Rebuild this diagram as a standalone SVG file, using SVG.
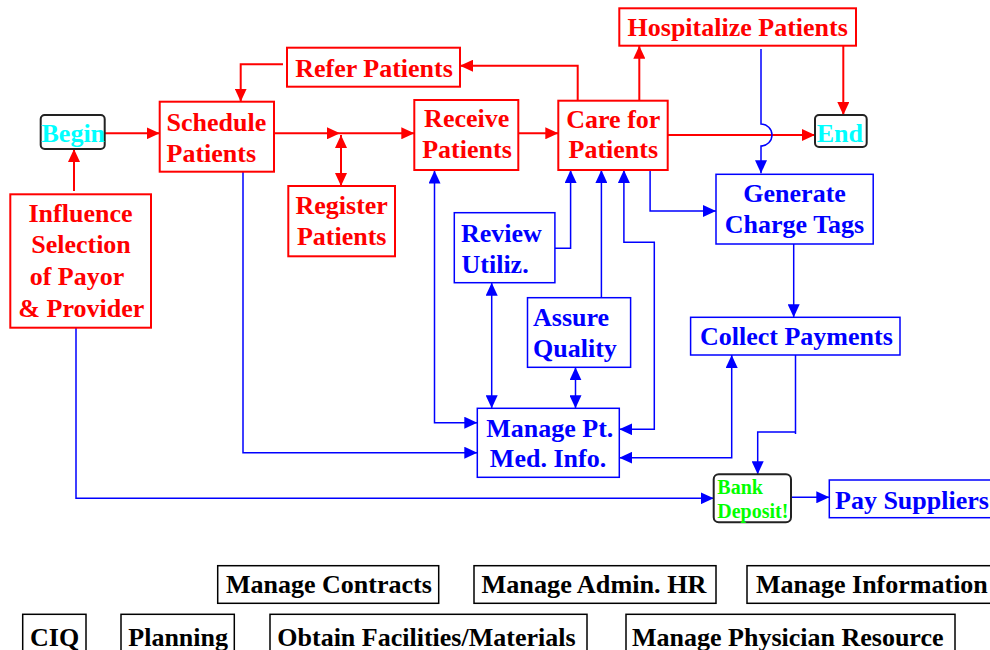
<svg xmlns="http://www.w3.org/2000/svg" width="990" height="650" viewBox="0 0 990 650">
<defs>
<style>
text{font-family:"Liberation Serif","Times New Roman",serif;font-weight:bold;font-size:26px}
.r rect{fill:#fff;stroke:#ff0000;stroke-width:2}
.r text{fill:#ff0000}
.b rect{fill:#fff;stroke:#0000ff;stroke-width:1.5}
.b text{fill:#0000ff}
.t rect{fill:#fff;stroke:#222;stroke-width:2}
.k rect{fill:#fff;stroke:#000;stroke-width:1.5}
.k text{fill:#000}
.m{text-anchor:middle}
.cr path{fill:none;stroke:#ff0000;stroke-width:2}
.cb path{fill:none;stroke:#0000ff;stroke-width:1.5}
</style>
<marker id="ar" markerUnits="userSpaceOnUse" markerWidth="14" markerHeight="12" refX="13" refY="6" orient="auto-start-reverse"><path d="M0,0 L13,6 L0,12 z" fill="#ff0000"/></marker>
<marker id="ab" markerUnits="userSpaceOnUse" markerWidth="14" markerHeight="12" refX="13" refY="6" orient="auto-start-reverse"><path d="M0,0 L13,6 L0,12 z" fill="#0000ff"/></marker>
</defs>
<rect width="990" height="650" fill="#fff"/>

<g id="connectors">
<g class="cr">
<path d="M74,191 V149" marker-end="url(#ar)"/>
<path d="M105,133.3 H159.7" marker-end="url(#ar)"/>
<path d="M274,133.3 H340" marker-end="url(#ar)"/>
<path d="M340,133.3 H414.3" marker-end="url(#ar)"/>
<path d="M341,135 V186" marker-start="url(#ar)" marker-end="url(#ar)"/>
<path d="M518.3,133.3 H558.3" marker-end="url(#ar)"/>
<path d="M668,135 H815" marker-end="url(#ar)"/>
<path d="M639.3,100.7 V45.7" marker-end="url(#ar)"/>
<path d="M843.3,45.7 V115" marker-end="url(#ar)"/>
<path d="M577.7,100.7 V65.7 H460" marker-end="url(#ar)"/>
<path d="M283,64.3 H240.7 V101.7" marker-end="url(#ar)"/>
</g>
<g class="cb">
<path d="M761,49 V124 A11,11 0 0 1 761,146 V173.3" marker-end="url(#ab)"/>
<path d="M555,248.3 H570.6 V170" marker-end="url(#ab)"/>
<path d="M601.4,297.7 V170" marker-end="url(#ab)"/>
<path d="M619.3,429.3 H654.3 V242.3 H623.9 V170" marker-start="url(#ab)" marker-end="url(#ab)"/>
<path d="M650.1,170 V211 H716" marker-end="url(#ab)"/>
<path d="M619.3,457.7 H731.7 V355" marker-start="url(#ab)" marker-end="url(#ab)"/>
<path d="M795.5,355 V434 M795.5,432 H757.7 V474.3" marker-end="url(#ab)"/>
<path d="M491.7,282.7 V408.3" marker-start="url(#ab)" marker-end="url(#ab)"/>
<path d="M575.5,367.3 V408.3" marker-start="url(#ab)" marker-end="url(#ab)"/>
<path d="M434.5,170.5 V422.7 H477.3" marker-start="url(#ab)" marker-end="url(#ab)"/>
<path d="M243,171.7 V452.7 H477.3" marker-end="url(#ab)"/>
<path d="M76,327.7 V498.3 H713.7" marker-end="url(#ab)"/>
<path d="M791,497.3 H829.3" marker-end="url(#ab)"/>
<path d="M793.7,244 V317.3" marker-end="url(#ab)"/>
</g>
</g>

<g id="begin" class="t"><rect x="40.7" y="115" width="64" height="34" rx="4"/><text x="41.5" y="141.7" fill="#00ffff">Begin</text></g>
<g id="end" class="t"><rect x="815" y="115" width="51.7" height="32" rx="4"/><text x="816.7" y="141.7" fill="#00ffff">End</text></g>
<g id="bank" class="t"><rect x="713.7" y="474.3" width="77.3" height="48" rx="5"/><text x="717.3" y="494" fill="#00ff00" style="font-size:20px">Bank</text><text x="717.3" y="518.3" fill="#00ff00" style="font-size:20px">Deposit!</text></g>

<g id="schedule" class="r"><rect x="159.7" y="101.7" width="114.3" height="70"/><text x="166.5" y="130.7">Schedule</text><text x="166.5" y="161.7">Patients</text></g>
<g id="refer" class="r"><rect x="287" y="47.7" width="173" height="39"/><text class="m" x="374" y="76.5">Refer Patients</text></g>
<g id="register" class="r"><rect x="288.3" y="186" width="106.7" height="70.3"/><text class="m" x="341.7" y="214.3">Register</text><text class="m" x="341.7" y="245">Patients</text></g>
<g id="receive" class="r"><rect x="414.3" y="100" width="104" height="70"/><text class="m" x="466.7" y="127.3">Receive</text><text class="m" x="467" y="158.3">Patients</text></g>
<g id="care" class="r"><rect x="558.3" y="100.7" width="109.4" height="69.3"/><text class="m" x="613.3" y="127.7">Care for</text><text class="m" x="613.3" y="158.3">Patients</text></g>
<g id="hospitalize" class="r"><rect x="619.3" y="8.3" width="236.7" height="37.4"/><text class="m" x="737.7" y="36">Hospitalize Patients</text></g>
<g id="influence" class="r"><rect x="10.3" y="194.3" width="140.7" height="133.4"/><text class="m" x="80.5" y="221.7">Influence</text><text class="m" x="81" y="253.3">Selection</text><text class="m" x="77" y="285">of Payor</text><text class="m" x="81.3" y="316.7">&amp; Provider</text></g>

<g id="review" class="b"><rect x="454.3" y="212.7" width="100.6" height="70"/><text x="461" y="241.7">Review</text><text x="461.5" y="273.3">Utiliz.</text></g>
<g id="assure" class="b"><rect x="527.5" y="297.7" width="103.1" height="69.6"/><text x="533" y="325.7">Assure</text><text x="533" y="356.7">Quality</text></g>
<g id="manage-pt" class="b"><rect x="477.3" y="408.3" width="142" height="69"/><text class="m" x="549.8" y="436.7">Manage Pt.</text><text class="m" x="548" y="467.3">Med. Info.</text></g>
<g id="generate" class="b"><rect x="716" y="174.3" width="157.2" height="69.7"/><text class="m" x="794.6" y="201.7">Generate</text><text class="m" x="794.5" y="233.3">Charge Tags</text></g>
<g id="collect" class="b"><rect x="690.6" y="317.3" width="209.4" height="37.7"/><text class="m" x="796.4" y="345">Collect Payments</text></g>
<g id="pay" class="b"><rect x="829.3" y="480" width="170" height="37.7"/><text x="835" y="509.3">Pay Suppliers</text></g>

<g id="manage-contracts" class="k"><rect x="217.7" y="565.7" width="221" height="37.6"/><text x="226" y="593.3">Manage Contracts</text></g>
<g id="manage-admin-hr" class="k"><rect x="474" y="565.7" width="242" height="37.6"/><text x="481.5" y="593.3" textLength="225" lengthAdjust="spacingAndGlyphs">Manage Admin. HR</text></g>
<g id="manage-information" class="k"><rect x="747" y="565.7" width="260" height="37.6"/><text x="756" y="593.3">Manage Information</text></g>
<g id="ciq" class="k"><rect x="22.7" y="614.3" width="63.3" height="45"/><text x="30" y="645.7">CIQ</text></g>
<g id="planning" class="k"><rect x="121" y="614.3" width="113.3" height="45"/><text x="128.3" y="645.7">Planning</text></g>
<g id="obtain" class="k"><rect x="270" y="614.3" width="317" height="45"/><text x="277.3" y="645.7">Obtain Facilities/Materials</text></g>
<g id="physician" class="k"><rect x="626" y="614.3" width="329" height="45"/><text x="632" y="645.7">Manage Physician Resource</text></g>
</svg>
